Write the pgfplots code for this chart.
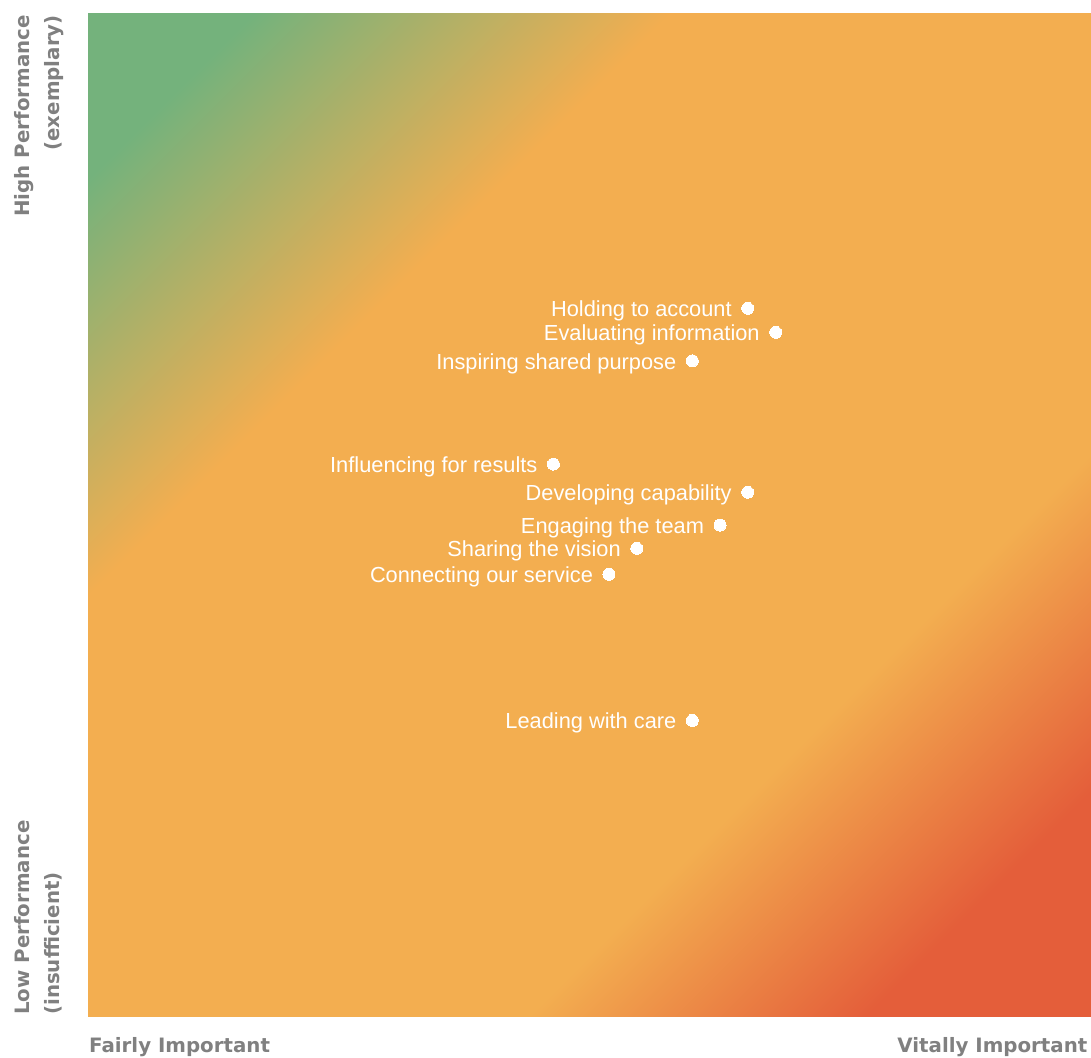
\documentclass[border=0pt]{standalone}
\usepackage{fontspec}
\setmainfont{Liberation Sans}
\newfontfamily\axfont{DejaVu Sans}
\usepackage{pgfplots}
\pgfplotsset{compat=1.18}
\usepackage{pgfplotstable}
\definecolor{cgreen}{RGB}{116,178,124}
\definecolor{corange}{RGB}{243,174,80}
\definecolor{cred}{RGB}{228,94,58}
\definecolor{labgray}{RGB}{128,128,128}
\pgfdeclarehorizontalshading{bgshade}{100bp}{color(0bp)=(cgreen); color(20.3bp)=(cgreen); color(35.1bp)=(corange); color(65.6bp)=(corange); color(77.6bp)=(cred); color(100bp)=(cred)}
\pgfplotstableread[col sep=comma]{
x,y,label
65.77,70.63,Holding to account
68.56,68.23,Evaluating information
60.25,65.39,Inspiring shared purpose
46.40,55.08,Influencing for results
65.77,52.27,Developing capability
63.01,49.00,Engaging the team
54.71,46.68,Sharing the vision
51.94,44.08,Connecting our service
60.25,29.50,Leading with care
}\pts
\begin{document}
\begin{tikzpicture}
\begin{axis}[name=ax, at={(0,0)}, anchor=south west, scale only axis,
  width=1003pt, height=1002pt, xmin=0, xmax=100, ymin=0, ymax=100,
  hide axis, clip=false]
\shade[shading=bgshade, shading angle=-45] (rel axis cs:0,0) rectangle (rel axis cs:1,1);
\addplot[only marks, mark=*, mark size=6pt, mark options={fill=white, draw=white, line width=0pt},
  point meta=explicit symbolic, nodes near coords,
  nodes near coords style={anchor=base east, inner sep=0pt, xshift=-16pt, yshift=-8.5pt,
    text=white, font=\fontsize{21.8}{26}\selectfont}]
  table[x=x, y=y, meta=label] {\pts};
\end{axis}
\begin{scope}[every node/.style={inner sep=0pt, text=labgray, font=\axfont\bfseries\fontsize{19.8}{24}\selectfont}]
\node[anchor=base west] at ([xshift=1pt, yshift=-36.3pt]ax.south west) {Fairly Important};
\node[anchor=base east] at ([xshift=-3.5pt, yshift=-36.3pt]ax.south east) {Vitally Important};
\node[rotate=90, anchor=base east] at ([xshift=-58pt, yshift=-1pt]ax.north west) {High Performance};
\node[rotate=90, anchor=base east] at ([xshift=-28pt, yshift=-1pt]ax.north west) {(exemplary)};
\node[rotate=90, anchor=base west] at ([xshift=-58.5pt, yshift=1pt]ax.south west) {Low Performance};
\node[rotate=90, anchor=base west] at ([xshift=-28pt, yshift=1pt]ax.south west) {(insufficient)};
\end{scope}
\pgfresetboundingbox
\path[use as bounding box] ([xshift=-88pt, yshift=-41pt]ax.south west) rectangle ([yshift=14pt]ax.north east);
\end{tikzpicture}
\end{document}
